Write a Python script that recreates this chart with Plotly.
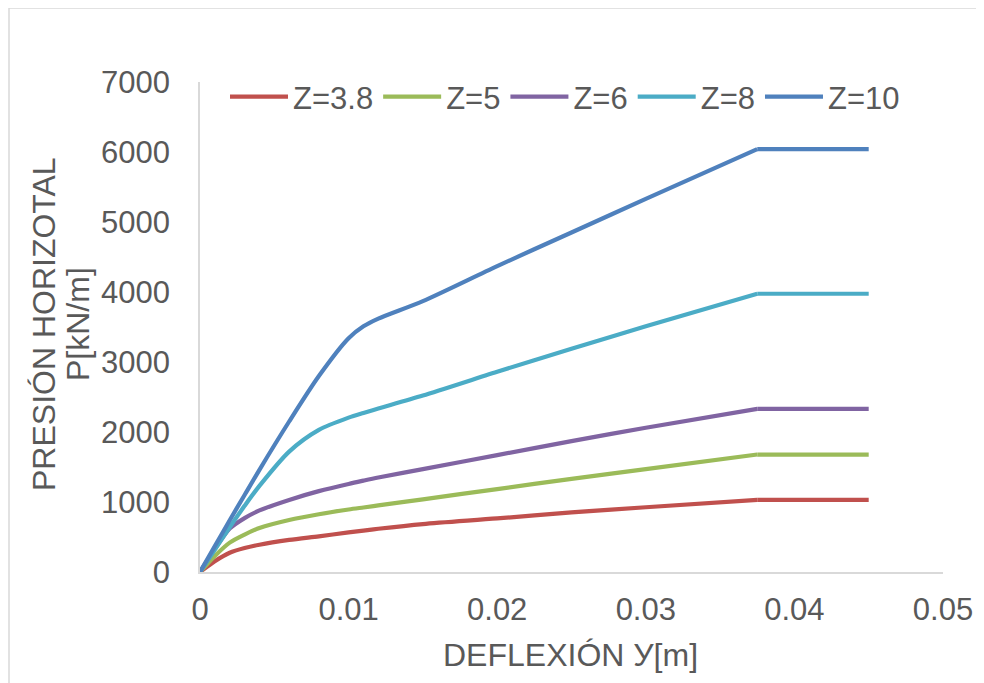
import plotly.graph_objects as go

# ---- data ----
deflexion = [0, 0.001, 0.002, 0.003, 0.004, 0.006, 0.008, 0.010, 0.011, 0.012,
             0.015, 0.02, 0.025, 0.03, 0.0375, 0.045]

p_z38 = [0, 155, 275, 342, 390, 458, 510, 565, 592, 618,
         685, 765, 853, 925, 1030, 1030]
p_z5 = [0, 230, 420, 535, 628, 742, 825, 893, 922, 951,
        1038, 1185, 1330, 1470, 1678, 1678]
p_z6 = [0, 330, 620, 770, 880, 1030, 1155, 1258, 1305, 1350,
        1470, 1670, 1870, 2060, 2330, 2330]
p_z8 = [0, 320, 640, 945, 1230, 1720, 2030, 2205, 2272, 2335,
        2520, 2860, 3190, 3510, 3975, 3975]
p_z10 = [0, 370, 740, 1100, 1460, 2150, 2800, 3340, 3510, 3620,
         3870, 4370, 4850, 5330, 6040, 6040]

series_names = ["Z=3.8", "Z=5", "Z=6", "Z=8", "Z=10"]
series_values = [p_z38, p_z5, p_z6, p_z8, p_z10]
series_colors = ["#C0504D", "#9BBB59", "#8064A2", "#4BACC6", "#4F81BD"]

x_tickvals = [0, 0.01, 0.02, 0.03, 0.04, 0.05]
x_ticktext = ["0", "0.01", "0.02", "0.03", "0.04", "0.05"]
y_tickvals = [0, 1000, 2000, 3000, 4000, 5000, 6000, 7000]
y_ticktext = ["0", "1000", "2000", "3000", "4000", "5000", "6000", "7000"]

x_title = "DEFLEXIÓN У[m]"
y_title_1 = "PRESIÓN HORIZOTAL"
y_title_2 = "P[kN/m]"

FONT = "Liberation Sans, Arial, sans-serif"
TXT = "#595959"
AXC = "#d9d9d9"

fig = go.Figure()
for name, vals, col in zip(series_names, series_values, series_colors):
    # the curve rises smoothly up to its plateau, then stays flat
    k = vals.index(max(vals))
    fig.add_trace(go.Scatter(x=deflexion[:k + 1], y=vals[:k + 1], name=name, mode="lines",
                             legendgroup=name,
                             line=dict(color=col, width=4.2, shape="spline", smoothing=0.8)))
    fig.add_trace(go.Scatter(x=deflexion[k:], y=vals[k:], name=name, mode="lines",
                             legendgroup=name, showlegend=False,
                             line=dict(color=col, width=4.2)))

# the page body has an 8px margin, so the figure is 976x675 placed at (8,8)
W, H = 976, 675
L, R, T, B = 192, 41, 74, 111
pw, ph = W - L - R, H - T - B
OFF = 8

def px_to_paper_x(px):  # page pixel -> paper
    return (px - OFF - L) / pw

def px_to_paper_y(py):
    return (H - B - (py - OFF)) / ph

fig.update_layout(
    width=W, height=H,
    margin=dict(l=L, r=R, t=T, b=B, pad=0),
    paper_bgcolor="white", plot_bgcolor="white",
    font=dict(family=FONT, size=31, color=TXT),
    showlegend=True,
    legend=dict(orientation="h", x=px_to_paper_x(225), y=px_to_paper_y(97),
                xanchor="left", yanchor="middle", bgcolor="rgba(0,0,0,0)",
                font=dict(size=31, color=TXT), itemwidth=58, tracegroupgap=0),
    xaxis=dict(range=[0, 0.05], tickvals=x_tickvals, ticktext=x_ticktext,
               showgrid=False, zeroline=False, showline=True, linecolor=AXC,
               linewidth=1.5, ticks="", ticklabelstandoff=9,
               tickfont=dict(size=31, color=TXT)),
    yaxis=dict(range=[0, 7000], tickvals=y_tickvals, ticktext=y_ticktext,
               showgrid=False, zeroline=False, showline=True, linecolor=AXC,
               linewidth=1.5, ticks="", ticklabelstandoff=22,
               tickfont=dict(size=31, color=TXT)),
    shapes=[dict(type="rect", xref="paper", yref="paper",
                 x0=px_to_paper_x(9), x1=px_to_paper_x(1030),
                 y0=px_to_paper_y(730), y1=px_to_paper_y(8),
                 line=dict(color=AXC, width=1.5), fillcolor="rgba(0,0,0,0)", layer="below")],
    annotations=[
        dict(text=x_title, xref="paper", yref="paper", x=px_to_paper_x(570), y=px_to_paper_y(655),
             xanchor="center", yanchor="middle", showarrow=False, font=dict(size=32, color=TXT)),
        dict(text=y_title_1, xref="paper", yref="paper", x=px_to_paper_x(44), y=px_to_paper_y(324),
             xanchor="center", yanchor="middle", showarrow=False, textangle=-90,
             font=dict(size=32, color=TXT)),
        dict(text=y_title_2, xref="paper", yref="paper", x=px_to_paper_x(78), y=px_to_paper_y(324),
             xanchor="center", yanchor="middle", showarrow=False, textangle=-90,
             font=dict(size=32, color=TXT)),
    ],
)

fig.write_html("out.html")
